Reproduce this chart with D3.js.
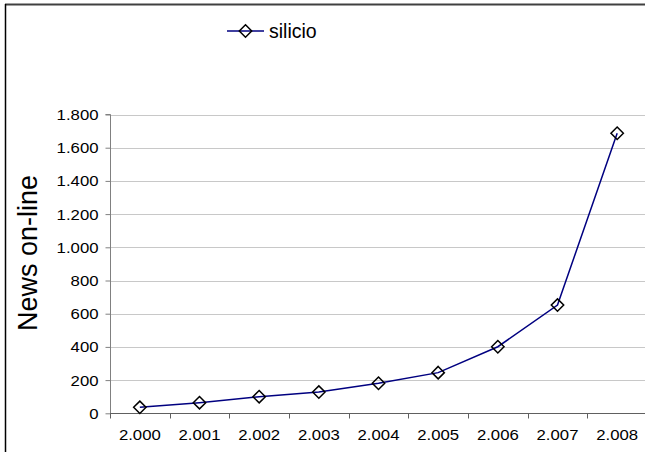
<!DOCTYPE html>
<html>
<head>
<meta charset="utf-8">
<script src="https://cdn.jsdelivr.net/npm/d3@7"></script>
<style>
html,body{margin:0;padding:0;background:#fff;overflow:hidden;}
svg{display:block;}
text{font-family:"Liberation Sans",Arial,sans-serif;fill:#000;}
</style>
</head>
<body>
<svg id="chart" width="645" height="452"></svg>
<script>
const categories = ["2.000","2.001","2.002","2.003","2.004","2.005","2.006","2.007","2.008"];
const seriesName = "silicio";
const values = [36, 64, 100, 128, 181, 245, 401, 652, 1687];
const yTicks = [0, 200, 400, 600, 800, 1000, 1200, 1400, 1600, 1800];
const yTitle = "News on-line";

const svg = d3.select("#chart");
const W = 645, H = 452;
const SX = 1.08;

// outer frame (left and top visible)
svg.append("line").attr("x1",5).attr("y1",4.5).attr("x2",W).attr("y2",4.5)
  .attr("stroke","#404040").attr("stroke-width",2);
svg.append("line").attr("x1",5.5).attr("y1",4).attr("x2",5.5).attr("y2",H)
  .attr("stroke","#000").attr("stroke-width",1.5);

const x = d3.scaleBand().domain(categories).range([110, 647]).padding(0);
const y = d3.scaleLinear().domain([0, 1800]).range([413.3, 114.5]);

// gridlines
svg.append("g").selectAll("line").data(yTicks.filter(d=>d>0)).join("line")
  .attr("x1",110).attr("x2",W)
  .attr("y1",d=>Math.round(y(d))+0.5).attr("y2",d=>Math.round(y(d))+0.5)
  .attr("stroke","#c8c8c8").attr("stroke-width",1);

const fmt = d => d3.format(",")(d).replace(/,/g,".");

// y axis
const yAxis = d3.axisLeft(y).tickValues(yTicks).tickFormat(fmt).tickSize(5).tickPadding(6);
const gy = svg.append("g").attr("transform","translate(110.5,0)").call(yAxis);
gy.select(".domain").attr("stroke","#808080").attr("d","M-5,"+y(1800)+"H0V"+y(0));
gy.selectAll(".tick line").attr("stroke","#808080");
gy.selectAll(".tick text").style("font-size","15.5px").attr("fill","#000")
  .attr("x",-12/SX).attr("transform",`scale(${SX},1)`);

// x axis
const xAxis = d3.axisBottom(x).tickSize(0).tickPadding(16);
const gx = svg.append("g").attr("transform","translate(0,"+(Math.round(y(0))+0.5)+")").call(xAxis);
gx.select(".domain").attr("stroke","#606060").attr("d","M110,0H"+W);
gx.selectAll(".tick text").style("font-size","15.5px").attr("fill","#000")
  .attr("transform",`scale(${SX},1)`);
// category boundary ticks
gx.append("g").selectAll("line").data(categories).join("line")
  .attr("x1",d=>Math.round(x(d))+0.5).attr("x2",d=>Math.round(x(d))+0.5)
  .attr("y1",0).attr("y2",5).attr("stroke","#606060");

// y title
svg.append("text")
  .attr("transform","translate(37,253) rotate(-90)")
  .attr("text-anchor","middle")
  .style("font-size","27px")
  .text(yTitle);

// line
const line = d3.line().x((d,i)=>x(categories[i])+x.bandwidth()/2).y(d=>y(d));
svg.append("path").datum(values).attr("d",line)
  .attr("fill","none").attr("stroke","#000080").attr("stroke-width",1.5);

const diamond = (cx,cy,r)=>`M${cx},${cy-r}L${cx+r},${cy}L${cx},${cy+r}L${cx-r},${cy}Z`;
svg.append("g").selectAll("path").data(values).join("path")
  .attr("d",(d,i)=>diamond(x(categories[i])+x.bandwidth()/2, y(d), 6.2))
  .attr("fill","none").attr("stroke","#000").attr("stroke-width",1.5);

// legend
const lg = svg.append("g");
lg.append("line").attr("x1",227).attr("x2",264).attr("y1",31).attr("y2",31)
  .attr("stroke","#000080").attr("stroke-width",1.5);
lg.append("path").attr("d",diamond(245.5,31,6.2)).attr("fill","none").attr("stroke","#000").attr("stroke-width",1.5);
lg.append("text").attr("x",269).attr("y",38).style("font-size","19.5px").text(seriesName);
</script>
</body>
</html>
